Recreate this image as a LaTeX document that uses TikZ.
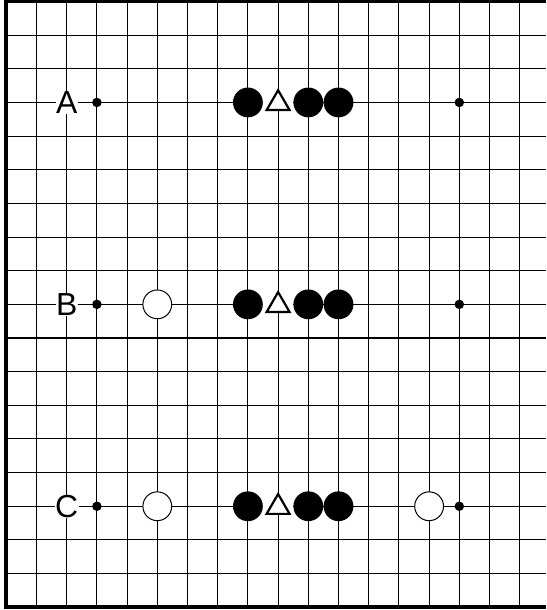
\documentclass[tikz,border=0pt]{standalone}
\usepackage{fontspec}
\usepackage{tikz}
\usetikzlibrary{shapes.geometric}
\newfontfamily\lblfont{Liberation Sans}

\begin{document}
\begin{tikzpicture}[
  x=30.2bp, y=-33.65bp,
  % --- Styles ---
  gridline/.style={line width=1.05bp, black},
  edgeline/.style={line width=3.8bp, black},
  hoshi/.style={circle, fill=black, minimum size=9.5bp, inner sep=0pt},
  bstone/.style={circle, fill=black, minimum size=29.8bp, inner sep=0pt},
  wstone/.style={circle, draw=black, fill=white, line width=1bp,
    minimum size=28.8bp, inner sep=0pt},
  trimark/.style={regular polygon, regular polygon sides=3, draw=black,
    fill=white, line width=2.2bp, minimum size=26.5bp, inner sep=0pt,
    yshift=-1bp},
  lbl/.style={fill=white, inner sep=0.3pt, font=\lblfont\fontsize{32}{32}\selectfont},
]
\useasboundingbox (-0.2086,-0.0446) rectangle (17.871,18.083);
% === GRID ===
\foreach \k in {1,...,17}
  \draw[gridline] (0,\k) -- (17.871,\k);
\foreach \j in {1,...,17}
  \draw[gridline] (\j,0) -- (\j,18);
% board edges (top, left, bottom)
\draw[edgeline] (17.871,0) -- (0,0) -- (0,18) -- (17.871,18);

% === THREE POSITIONS ===
\foreach \r/\tag in {3/A, 9/B, 15/C} {
  % star points
  \node[hoshi] (\tag-h3) at (3,\r) {};
  \node[hoshi] (\tag-h15) at (15,\r) {};
  % marked empty point
  \fill[white] (8.5,\r-0.37) rectangle (9.5,\r+0.23);
  \node[trimark] (\tag-t9) at (9,\r) {};
  % black stones
  \node[bstone] (\tag-b8) at (8,\r) {};
  \node[bstone] (\tag-b10) at (10,\r) {};
  \node[bstone] (\tag-b11) at (11,\r) {};
  % letter
  \node[lbl] (\tag-lbl) at (2,\r) {\tag};
}
% white stones
\node[wstone] (B-w5) at (5,9) {};
\node[wstone] (C-w5) at (5,15) {};
\node[wstone] (C-w14) at (14,15) {};
\end{tikzpicture}
\end{document}
